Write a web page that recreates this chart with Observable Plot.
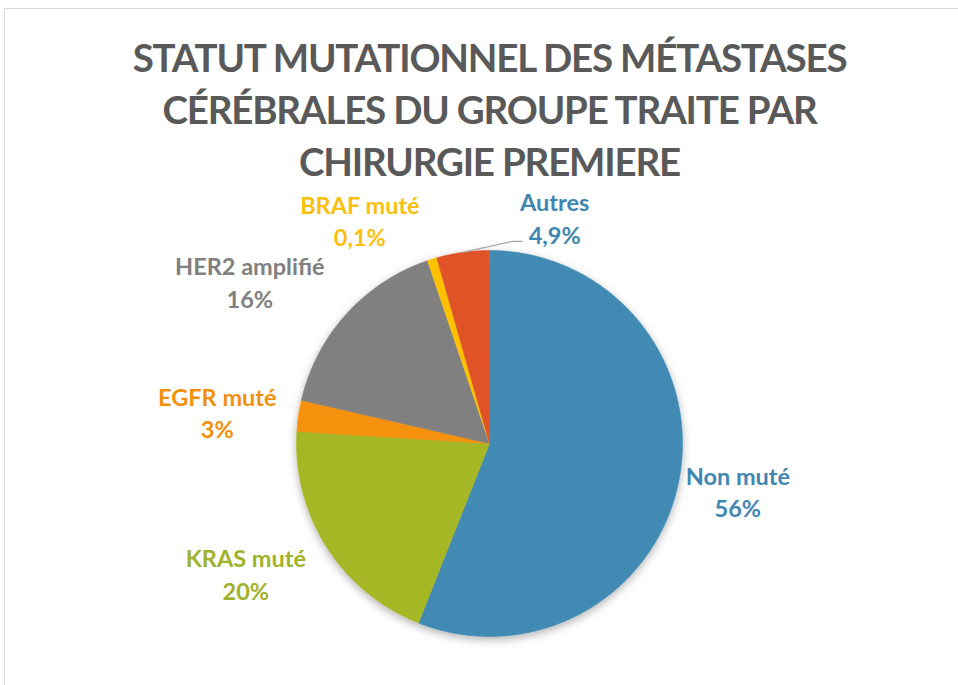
<!DOCTYPE html>
<html>
<head>
<meta charset="utf-8">
<script src="https://cdn.jsdelivr.net/npm/d3@7"></script>
<script src="https://cdn.jsdelivr.net/npm/@observablehq/plot@0.6"></script>
<style>
  html, body { margin: 0; padding: 0; background: #fff; overflow: hidden; }
  #wrap { position: relative; width: 958px; height: 685px; }
  #frame { position: absolute; left: 4px; top: 8px; width: 1000px; height: 700px;
           border-top: 1.5px solid #d9d9d9; border-left: 1.5px solid #d9d9d9; }
  #chart { position: absolute; left: 0; top: 0; }
</style>
</head>
<body>
<div id="wrap"><div id="frame"></div><div id="chart"></div></div>
<script>
// ---- data ----
const titleLines = ["STATUT MUTATIONNEL DES MÉTASTASES", "CÉRÉBRALES DU GROUPE TRAITE PAR", "CHIRURGIE PREMIERE"];
const categories = ["Non muté", "KRAS muté", "EGFR muté", "HER2 amplifié", "BRAF muté", "Autres"];
const values = [56, 20, 2.6, 16.2, 0.8, 4.4];
const percentLabels = ["56%", "20%", "3%", "16%", "0,1%", "4,9%"];

// ---- styles / layout ----
const sliceColors = ["#418ab3", "#a6b727", "#f59108", "#808080", "#fec104", "#df5328"];
const labelColors = ["#3f86b2", "#a0b22a", "#f2900c", "#808080", "#fbbe0a", "#3f86b2"];
const labelAngleShift = [0, 4.4, -1.6, -8, -12.8, 24];   // degrees
const labelRadius = [1.31, 1.43, 1.42, 1.50, 1.34, 1.22]; // in pie radii

const total = d3.sum(values);
const slices = [];
let acc = 0;
values.forEach((v, i) => {
  const a0 = acc / total * 2 * Math.PI;
  acc += v;
  const a1 = acc / total * 2 * Math.PI;
  slices.push({cat: categories[i], a0, a1, mid: (a0 + a1) / 2, i});
});

// polygon points for each slice
const pts = [];
for (const s of slices) {
  pts.push({cat: s.cat, x: 0, y: 0});
  const n = Math.max(2, Math.ceil((s.a1 - s.a0) / (Math.PI / 360)));
  for (let k = 0; k <= n; k++) {
    const a = s.a0 + (s.a1 - s.a0) * k / n;
    pts.push({cat: s.cat, x: Math.sin(a), y: Math.cos(a)});
  }
}

const labels = slices.map(s => {
  const a = s.mid + labelAngleShift[s.i] * Math.PI / 180;
  const r = labelRadius[s.i];
  return {text: `${s.cat}\n${percentLabels[s.i]}`, x: r * Math.sin(a), y: r * Math.cos(a), color: labelColors[s.i], s};
});

// leader line for "Autres"
const au = slices[5];
const lab = labels[5];
const leader = [
  {x: 1.0 * Math.sin(au.mid), y: 1.0 * Math.cos(au.mid)},
  {x: lab.x - 0.22, y: lab.y - 0.125},
  {x: lab.x - 0.17, y: lab.y - 0.125}
];

const FONT = "Lato, 'Open Sans', sans-serif";

const plot = Plot.plot({
  width: 958,
  height: 685,
  margin: 0,
  style: {background: "transparent", fontFamily: FONT},
  x: {domain: [-1, 1], range: [296, 682], axis: null},
  y: {domain: [-1, 1], range: [636, 250], axis: null},
  color: {domain: categories, range: sliceColors},
  marks: [
    Plot.line(pts, {x: "x", y: "y", z: "cat", fill: "cat", stroke: "cat", strokeWidth: 0.6}),
    Plot.line(leader, {x: "x", y: "y", stroke: "#a6a6a6", strokeWidth: 1.3}),
    ...labels.map(l => Plot.text([l], {
      x: "x", y: "y", text: "text", fill: l.color, fontSize: 23.5, fontWeight: "bold", lineHeight: 1.38
    })),
    Plot.text([titleLines.join("\n")], {
      frameAnchor: "top", lineAnchor: "top", dx: 10, dy: 34, text: d => d,
      fill: "#595959", fontSize: 38.5, fontWeight: "bold", lineHeight: 1.36
    })
  ]
});

document.getElementById("chart").appendChild(plot);

const svg = d3.select(plot);
// condensed title spacing
svg.selectAll("g[aria-label='text']").filter((d, i, n) => i === n.length - 1).style("letter-spacing", "-1.2px");
// soft drop shadow under the pie
const defs = svg.insert("defs", ":first-child");
const f = defs.append("filter").attr("id", "pieShadow").attr("x", "-20%").attr("y", "-20%").attr("width", "140%").attr("height", "140%");
f.append("feDropShadow").attr("dx", 0).attr("dy", 3).attr("stdDeviation", 4).attr("flood-color", "#000").attr("flood-opacity", 0.3);
svg.select("g[aria-label='line']").attr("filter", "url(#pieShadow)");
</script>
</body>
</html>
